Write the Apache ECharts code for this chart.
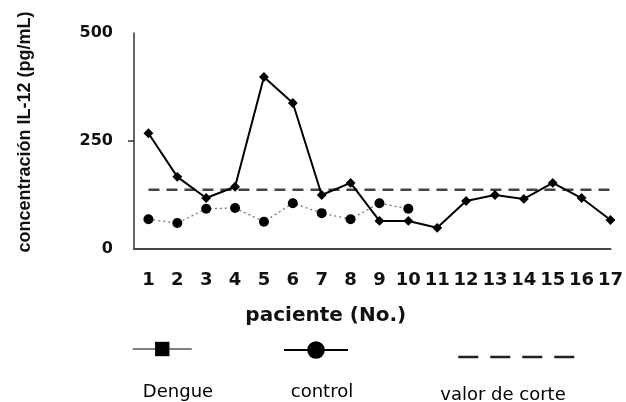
<!DOCTYPE html>
<html>
<head>
<meta charset="utf-8">
<script src="https://cdn.jsdelivr.net/npm/echarts@6/dist/echarts.min.js"></script>
<style>html,body{margin:0;padding:0;background:#fff}#c{width:626px;height:402px}</style>
</head>
<body>
<div id="c"></div>
<script>
// ---- data ----
const patients = [1,2,3,4,5,6,7,8,9,10,11,12,13,14,15,16,17];
const dengueValues = [268,167,118,144,398,338,125,153,65,65,49,111,125,116,153,118,67];
const controlPatients = [1,2,3,4,5,6,7,8,9,10];
const controlValues = [69,60,93,95,63,106,83,69,106,93];
const cutoffPatients = [1,17];
const cutoffValues = [137,137];
const yTicks = [0,250,500];
const seriesNames = ['Dengue','control','valor de corte'];

const pair = (xs, ys) => xs.map((x, i) => [x, ys[i]]);

const chart = echarts.init(document.getElementById('c'), null, {renderer: 'canvas'});
const legendText = {fontFamily: 'DejaVu Sans', fontSize: 18, color: '#222'};

chart.setOption({
  animation: false,
  backgroundColor: '#fff',
  grid: {left: 134, right: 13, top: 33, bottom: 153},
  xAxis: {
    type: 'value', min: 0.5, max: 17,
    name: 'paciente (No.)', nameLocation: 'middle', nameGap: 57,
    nameTextStyle: {fontFamily: 'DejaVu Sans', fontWeight: 'bold', fontSize: 20, color: '#111', padding: [0, 93, 0, 0]},
    axisLine: {show: true, lineStyle: {color: '#444', width: 2}},
    axisTick: {show: false},
    splitLine: {show: false},
    axisLabel: {customValues: patients, margin: 22, fontFamily: 'DejaVu Sans', fontWeight: 'bold', fontSize: 18, color: '#111'}
  },
  yAxis: {
    type: 'value', min: 0, max: 500, interval: 250,
    name: 'concentración IL-12 (pg/mL)', nameLocation: 'middle', nameGap: 100, nameRotate: 90,
    nameTextStyle: {fontFamily: 'Liberation Sans', fontWeight: 'bold', fontSize: 18, color: '#111', padding: [0, 0, 0, 18]},
    axisLine: {show: true, lineStyle: {color: '#333', width: 1.5}},
    axisTick: {show: true, length: 6, customValues: [250], lineStyle: {color: '#333', width: 1.5}},
    splitLine: {show: false},
    axisLabel: {customValues: yTicks, margin: 21, fontFamily: 'DejaVu Sans', fontWeight: 'bold', fontSize: 16, color: '#111'}
  },
  legend: [
    {left: 132, top: 340, padding: 0, itemWidth: 59, itemHeight: 18, formatter: () => '',
     data: [{name: seriesNames[0], symbolRotate: 0, lineStyle: {color: '#555', width: 1.5}, itemStyle: {color: '#000'}}]},
    {left: 283, top: 339, padding: 0, itemWidth: 64, itemHeight: 22, formatter: () => '',
     data: [{name: seriesNames[1], lineStyle: {color: '#000', width: 2, type: 'solid'}, itemStyle: {color: '#000'}}]},
    {left: 457, top: 350, padding: 0, itemWidth: 121, itemHeight: 14, formatter: () => '',
     data: [{name: seriesNames[2], lineStyle: {color: '#222', width: 2.5, type: [20, 12]}, itemStyle: {opacity: 0}}]}
  ],
  graphic: [
    {type: 'text', x: 178, y: 392, style: Object.assign({text: seriesNames[0], align: 'center', verticalAlign: 'middle'}, legendText)},
    {type: 'text', x: 322, y: 392, style: Object.assign({text: seriesNames[1], align: 'center', verticalAlign: 'middle'}, legendText)},
    {type: 'text', x: 503, y: 395, style: Object.assign({text: seriesNames[2], align: 'center', verticalAlign: 'middle'}, legendText)}
  ],
  series: [
    {name: seriesNames[0], type: 'line', data: pair(patients, dengueValues),
     symbol: 'rect', symbolSize: 7, symbolRotate: 45,
     lineStyle: {color: '#000', width: 2}, itemStyle: {color: '#000'}, z: 3},
    {name: seriesNames[1], type: 'line', data: pair(controlPatients, controlValues),
     symbol: 'circle', symbolSize: 10,
     lineStyle: {color: '#777', width: 1.3, type: [2, 3]}, itemStyle: {color: '#000'}, z: 2},
    {name: seriesNames[2], type: 'line', data: pair(cutoffPatients, cutoffValues),
     symbol: 'none', lineStyle: {color: '#444', width: 2.5, type: [11, 7]}, z: 1}
  ]
});
</script>
</body>
</html>
